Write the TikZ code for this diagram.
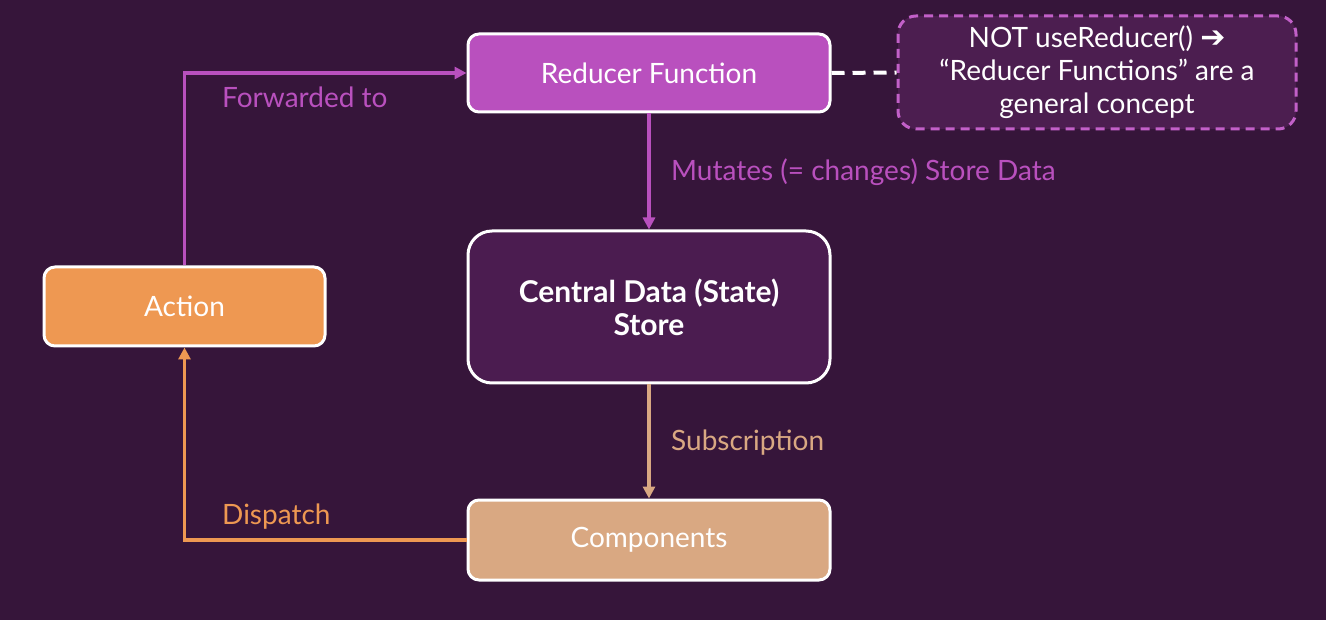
\documentclass[tikz,border=0pt]{standalone}
\usepackage{fontspec}
\setmainfont{Lato}
\newfontfamily\symfont{DejaVu Sans}
\usetikzlibrary{arrows.meta}
\definecolor{bgc}{RGB}{54,21,58}
\definecolor{redc}{RGB}{185,80,190}
\definecolor{storec}{RGB}{75,28,80}
\definecolor{notec}{RGB}{76,30,80}
\definecolor{notebd}{RGB}{194,96,200}
\definecolor{actc}{RGB}{238,152,82}
\definecolor{compc}{RGB}{217,168,130}
\tikzset{
  box/.style={draw=white, line width=3pt, rounded corners=11pt, text=white, align=center,
    font=\fontsize{28}{32}\selectfont, inner sep=0pt},
  lbl/.style={anchor=west, font=\fontsize{28}{32}\selectfont, inner sep=0pt},
  conn/.style={line width=3.2pt, -{Triangle[length=12pt,width=12pt]}},
}
\begin{document}
\begin{tikzpicture}[x=1pt,y=-1pt]
\fill[bgc] (0,0) rectangle (1326,620);
\useasboundingbox (0,0) rectangle (1326,620);
\node[box, fill=redc, minimum width=362pt, minimum height=78pt] (reducer) at (649,73) {Reducer Function};
\node[box, fill=storec, minimum width=362pt, minimum height=152pt, rounded corners=24pt,
      font=\fontsize{30}{33}\selectfont\bfseries] (store) at (649,307) {Central Data (State)\\Store};
\node[box, fill=actc, minimum width=281pt, minimum height=79pt] (action) at (184.5,306.5) {Action};
\node[box, fill=compc, minimum width=362pt, minimum height=80pt] (comp) at (649,540) {Components};
\node[box, draw=notebd, dashed, dash pattern=on 9pt off 6pt, fill=notec, minimum width=398pt, minimum height=113pt,
      rounded corners=18pt, font=\fontsize{28}{33}\selectfont] (note) at (1097,72.5)
      {NOT useReducer() {\symfont\bfseries\fontsize{30}{33}\selectfont ➔}\\“Reducer Functions” are a\\general concept};
\draw[white, line width=4pt, dash pattern=on 13pt off 8pt] (reducer.east) -- (note.west);
\draw[conn, redc] (action.north) |- (reducer.west);
\draw[conn, redc] (reducer.south) -- (store.north);
\draw[conn, compc] (store.south) -- (comp.north);
\draw[conn, actc] (comp.west) -| (action.south);
\node[lbl, text=redc] (lfwd) at (222,97) {Forwarded to};
\node[lbl, text=redc] (lmut) at (671,172) {Mutates (= changes) Store Data};
\node[lbl, text=compc] (lsub) at (671,443) {Subscription};
\node[lbl, text=actc] (ldis) at (222,517) {Dispatch};
\end{tikzpicture}
\end{document}
